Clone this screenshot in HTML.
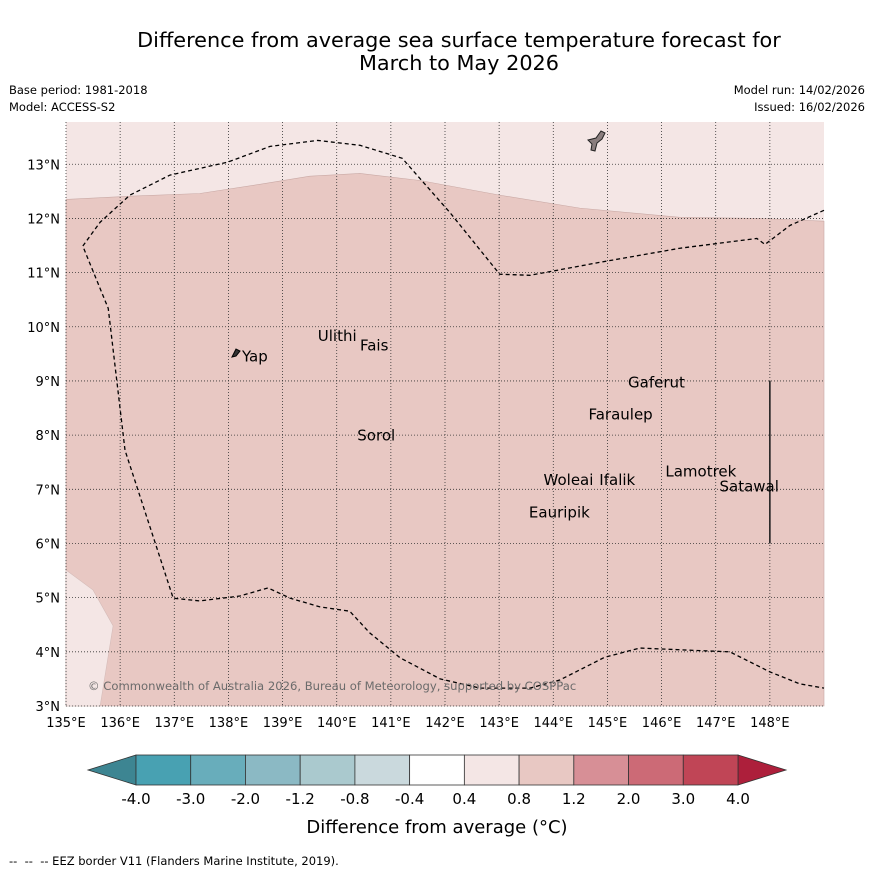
<!DOCTYPE html>
<html><head><meta charset="utf-8"><style>
body{margin:0;background:#fff;font-family:"Liberation Sans","DejaVu Sans",sans-serif;}
svg text{font-family:"DejaVu Sans","Liberation Sans",sans-serif;}
</style></head><body>
<svg id="c" width="873" height="873" xmlns="http://www.w3.org/2000/svg">
<rect width="873" height="873" fill="#fff"/>
<text x="459" y="47" font-size="20.8" text-anchor="middle">Difference from average sea surface temperature forecast for</text>
<text x="459" y="70" font-size="20.8" text-anchor="middle">March to May 2026</text>
<text x="9" y="94" font-size="11.5">Base period: 1981-2018</text>
<text x="9" y="111" font-size="11.5">Model: ACCESS-S2</text>
<text x="865" y="94" font-size="11.5" text-anchor="end">Model run: 14/02/2026</text>
<text x="865" y="111" font-size="11.5" text-anchor="end">Issued: 16/02/2026</text>
<g id="map"></g>
<g id="cb"></g>
<text x="437" y="833" font-size="18" text-anchor="middle">Difference from average (°C)</text>
<text x="9" y="865" font-size="11.5">-- &#160;-- &#160;-- EEZ border V11 (Flanders Marine Institute, 2019).</text>
</svg>
<script>
const lonTicks=[135,136,137,138,139,140,141,142,143,144,145,146,147,148];
const latTicks=[3,4,5,6,7,8,9,10,11,12,13];
const anomBoundary=[[135,12.35],[136.18,12.41],[137.47,12.46],[138.58,12.63],[139.5,12.78],[140.43,12.83],[141.54,12.7],[143.01,12.43],[144.49,12.19],[146.34,12.02],[147.82,12.0],[149,11.95]];
const anomPatch=[[135,5.51],[135.5,5.14],[135.87,4.48],[135.63,3.0],[135,3.0]];
const eez=[[149,12.15],[148.37,11.87],[147.91,11.52],[147.76,11.63],[146.34,11.45],[144.86,11.19],[143.57,10.95],[143.01,10.97],[142.09,12.11],[141.21,13.11],[140.43,13.35],[139.65,13.44],[138.77,13.33],[137.99,13.04],[136.92,12.8],[136.18,12.43],[135.63,11.93],[135.31,11.49],[135.78,10.34],[136.09,7.72],[136.98,4.99],[137.47,4.94],[138.21,5.03],[138.73,5.18],[139.14,4.99],[139.69,4.83],[140.24,4.75],[140.61,4.35],[141.17,3.89],[141.91,3.5],[142.65,3.33],[143.57,3.33],[144.12,3.48],[144.95,3.9],[145.6,4.07],[146.52,4.03],[147.26,4.0],[148.0,3.63],[148.55,3.41],[149,3.33]];
const places=["Ulithi","Fais","Yap","Gaferut","Faraulep","Sorol","Lamotrek","Woleai","Ifalik","Satawal","Eauripik"];
const placeLon=[139.65,140.43,138.25,145.38,144.65,140.38,146.07,143.82,144.85,147.07,143.55];
const placeLat=[9.83,9.65,9.45,8.97,8.38,7.99,7.33,7.17,7.17,7.05,6.57];
const cbLevels=["-4.0","-3.0","-2.0","-1.2","-0.8","-0.4","0.4","0.8","1.2","2.0","3.0","4.0"];
const cbColors=["#48a1b2","#68adbb","#8bb9c4","#aac9ce","#cad9dd","#ffffff","#f4e6e5","#e8c8c3","#d78f96","#cc6a76","#c04556"];
const L0=135,L1=149,T0=3,T1=13.78,X0=66,X1=824,Y0=706,Y1=122;
const x=l=>X0+(l-L0)*(X1-X0)/(L1-L0), y=t=>Y0-(t-T0)*(Y0-Y1)/(T1-T0);
const NS="http://www.w3.org/2000/svg";
function mk(p,tag,at){const e=document.createElementNS(NS,tag);for(const k in at)e.setAttribute(k,at[k]);p.appendChild(e);return e;}
const m=document.getElementById('map');
let r=mk(m,'rect',{x:X0,y:Y1,width:X1-X0,height:Y0-Y1,fill:'#f4e6e5'});


let d='M'+x(L0)+','+y(T0)+' '+anomBoundary.map(p=>'L'+x(p[0])+','+y(p[1])).join(' ')+' L'+x(L1)+','+y(T0)+'Z';
let a=mk(m,'path',{d:d,fill:'#e8c8c3',stroke:'#c9a9a5','stroke-width':0.6});


let pp=mk(m,'path',{d:'M'+anomPatch.map(p=>x(p[0])+','+y(p[1])).join(' L')+'Z',fill:'#f4e6e5',stroke:'#d5bcb9','stroke-width':0.6});


lonTicks.forEach(l=>{const g=mk(m,'line',{x1:x(l),x2:x(l),y1:Y1,y2:Y0,stroke:'#333','stroke-width':0.8,'stroke-dasharray':'1,2'});


const t=mk(m,'text',{x:x(l),y:727,'font-size':13,'text-anchor':'middle'});t.textContent=l+'°E';

});
latTicks.forEach(l=>{const g=mk(m,'line',{x1:X0,x2:X1,y1:y(l),y2:y(l),stroke:'#333','stroke-width':0.8,'stroke-dasharray':'1,2'});


const t=mk(m,'text',{x:60,y:y(l)+5,'font-size':13,'text-anchor':'end'});t.textContent=l+'°N';

});
let e=mk(m,'path',{d:'M'+eez.map(p=>x(p[0])+','+y(p[1])).join(' L'),fill:'none',stroke:'#000','stroke-width':1.3,'stroke-dasharray':'4,3'});


let vl=mk(m,'line',{x1:x(148),x2:x(148),y1:y(9),y2:y(6),stroke:'#222','stroke-width':1.6});


let gu=mk(m,'path',{d:'M588,140 L596,138 L601,131 L605,133 L602,139 L597,143 L595,151 L591,150 L592,144Z',fill:'#8a7e7e',stroke:'#222','stroke-width':1});


let yp=mk(m,'path',{d:'M232,357 L236,349 L240,351 L236,356Z',fill:'#333',stroke:'#000','stroke-width':1});


places.forEach((n,i)=>{const t=mk(m,'text',{x:x(placeLon[i]),y:y(placeLat[i])+5,'font-size':15});t.textContent=n;

});
let cp=mk(m,'text',{x:88,y:690,'font-size':11.6,fill:'#6b6b6b'});cp.textContent='© Commonwealth of Australia 2026, Bureau of Meteorology, supported by COSPPac';


const cb=document.getElementById('cb');
const B0=136,B1=738,BT=755,BB=785,bw=(B1-B0)/cbColors.length;
let la=mk(cb,'path',{d:`M${B0},${BT} L88,770 L${B0},${BB}Z`,fill:'#3d8592',stroke:'#333','stroke-width':0.8});


let ra=mk(cb,'path',{d:`M${B1},${BT} L786,770 L${B1},${BB}Z`,fill:'#ad1f3b',stroke:'#333','stroke-width':0.8});


cbColors.forEach((c,i)=>{const b=mk(cb,'rect',{x:B0+i*bw,y:BT,width:bw,height:BB-BT,fill:c,stroke:'#333','stroke-width':0.8});

});
cbLevels.forEach((v,i)=>{const t=mk(cb,'text',{x:B0+i*bw,y:804,'font-size':15,'text-anchor':'middle'});t.textContent=v;

});
</script>
</body></html>
